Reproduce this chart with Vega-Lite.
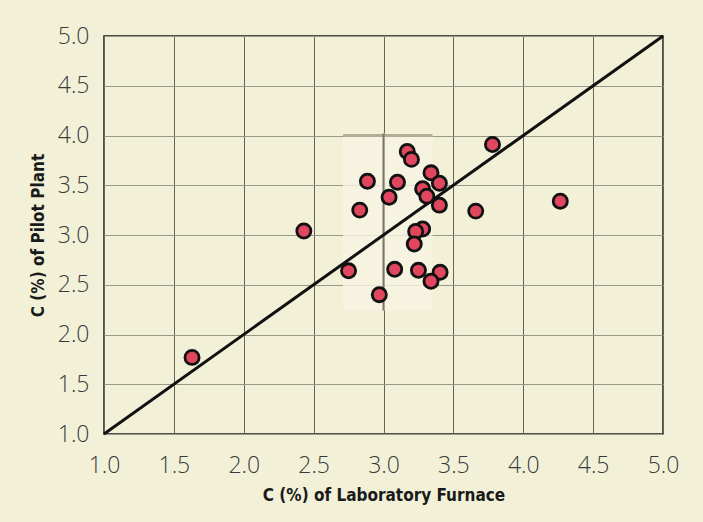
{
  "$schema": "https://vega.github.io/schema/vega-lite/v6.json",
  "autosize": "none",
  "width": 559,
  "height": 398,
  "padding": {"left": 104, "top": 36, "right": 40, "bottom": 88},
  "background": "#f2f1d8",
  "config": {
    "view": {"stroke": "#1a1a1a", "strokeWidth": 1.5, "fill": "#f2f1d8"},
    "axis": {
      "domain": false,
      "ticks": false,
      "labelFlush": false,
      "labelFont": "Open Sans",
      "labelFontWeight": 300,
      "labelFontSize": 23,
      "labelColor": "#3a3a3a",
      "titleFont": "DejaVu Sans Condensed, Liberation Sans, sans-serif",
      "titleFontWeight": "bold",
      "titleFontSize": 17,
      "titleColor": "#1a1a1a"
    }
  },
  "datasets": {
    "points": [
      {"lab": 1.63, "pilot": 1.77},
      {"lab": 2.43, "pilot": 3.04},
      {"lab": 2.75, "pilot": 2.64},
      {"lab": 2.97, "pilot": 2.40},
      {"lab": 2.83, "pilot": 3.25},
      {"lab": 2.885, "pilot": 3.54},
      {"lab": 3.04, "pilot": 3.38},
      {"lab": 3.10, "pilot": 3.53},
      {"lab": 3.17, "pilot": 3.84},
      {"lab": 3.20, "pilot": 3.76},
      {"lab": 3.34, "pilot": 3.625},
      {"lab": 3.40, "pilot": 3.52},
      {"lab": 3.28, "pilot": 3.465},
      {"lab": 3.31, "pilot": 3.39},
      {"lab": 3.40, "pilot": 3.30},
      {"lab": 3.28, "pilot": 3.06},
      {"lab": 3.23, "pilot": 3.035},
      {"lab": 3.22, "pilot": 2.91},
      {"lab": 3.08, "pilot": 2.655},
      {"lab": 3.25, "pilot": 2.645},
      {"lab": 3.405, "pilot": 2.625},
      {"lab": 3.34, "pilot": 2.535},
      {"lab": 3.78, "pilot": 3.91},
      {"lab": 3.66, "pilot": 3.24},
      {"lab": 4.265, "pilot": 3.34}
    ],
    "diag": [{"lab": 1, "pilot": 1}, {"lab": 5, "pilot": 5}],
    "box": [{"x1": 2.71, "x2": 3.35, "y1": 2.24, "y2": 4.02}],
    "boxh": [{"x1": 2.71, "x2": 3.35, "y": 4.0}],
    "boxv": [{"x": 3.0, "y1": 2.24, "y2": 4.02}]
  },
  "layer": [
    {
      "data": {"name": "box"},
      "mark": {"type": "rect", "fill": "#f6f4e2", "opacity": 0.8},
      "encoding": {
        "x": {"field": "x1", "type": "quantitative", "scale": {"domain": [1, 5], "nice": false, "zero": false},
          "axis": {"values": [1, 1.5, 2, 2.5, 3, 3.5, 4, 4.5, 5], "format": ".1f", "title": "C (%) of Laboratory Furnace", "labelPadding": 20, "titlePadding": 10, "gridColor": "#666655", "gridWidth": 1, "gridOpacity": 1}},
        "x2": {"field": "x2"},
        "y": {"field": "y1", "type": "quantitative", "scale": {"domain": [1, 5], "nice": false, "zero": false},
          "axis": {"values": [1, 1.5, 2, 2.5, 3, 3.5, 4, 4.5, 5], "format": ".1f", "title": "C (%) of Pilot Plant", "labelPadding": 15, "titlePadding": 10, "gridColor": "#99998a", "gridWidth": 1, "gridOpacity": 1}},
        "y2": {"field": "y2"}
      }
    },
    {
      "data": {"name": "boxh"},
      "mark": {"type": "rule", "color": "#b3ab93", "strokeWidth": 3},
      "encoding": {
        "x": {"field": "x1", "type": "quantitative"},
        "x2": {"field": "x2"},
        "y": {"field": "y", "type": "quantitative"}
      }
    },
    {
      "data": {"name": "boxv"},
      "mark": {"type": "rule", "color": "#77776a", "strokeWidth": 2},
      "encoding": {
        "x": {"field": "x", "type": "quantitative"},
        "y": {"field": "y1", "type": "quantitative"},
        "y2": {"field": "y2"}
      }
    },
    {
      "data": {"name": "diag"},
      "mark": {"type": "line", "color": "#111111", "strokeWidth": 3},
      "encoding": {
        "x": {"field": "lab", "type": "quantitative"},
        "y": {"field": "pilot", "type": "quantitative"}
      }
    },
    {
      "data": {"name": "points"},
      "mark": {"type": "point", "shape": "circle", "filled": true, "fill": "#e0475f", "stroke": "#111111", "strokeWidth": 2.8, "size": 200, "opacity": 1},
      "encoding": {
        "x": {"field": "lab", "type": "quantitative"},
        "y": {"field": "pilot", "type": "quantitative"}
      }
    }
  ]
}
